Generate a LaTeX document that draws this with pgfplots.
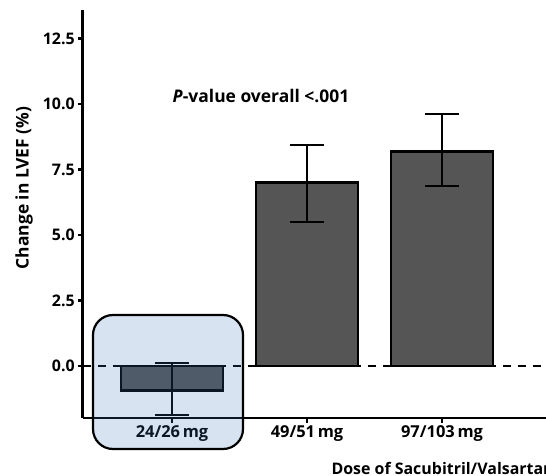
\documentclass[border=0pt]{standalone}
\usepackage{pgfplots}
\usepackage{pgfplotstable}
\pgfplotsset{compat=1.18}
\usepackage{fontspec}
\setmainfont{Open Sans}

\definecolor{bargray}{RGB}{85,85,85}
\definecolor{hlblue}{RGB}{56,116,183}

% mean change in LVEF with asymmetric confidence limits
\pgfplotstableread{
x   y      ep    em
0  -0.92   1.04  0.95
1   7.00   1.43  1.50
2   8.20   1.42  1.33
}\lvef

\begin{document}
\begin{tikzpicture}
\clip (-172bp,-110bp) rectangle (374bp,366bp);
\begin{axis}[
  anchor=origin, at={(0,0)},
  x=135bp, y=26.2bp,
  xmin=-0.66, xmax=3.2, ymin=-1.985, ymax=13.59,
  axis lines=left,
  axis line style={-, line width=2.8bp},
  clip=false,
  xtick={0,1,2},
  xticklabels={24/26\,mg,49/51\,mg,97/103\,mg},
  ytick={0,2.5,5,7.5,10,12.5},
  /pgf/number format/assume math mode=true,
  tick align=outside,
  major tick length=5bp,
  tick style={line width=2.2bp, black},
  ticklabel style={font=\bfseries\fontsize{16}{18}\selectfont},
  yticklabel style={inner sep=3bp, /pgf/number format/.cd, fixed, fixed zerofill, precision=1},
  xticklabel style={font=\bfseries\fontsize{16.5}{18}\selectfont, inner sep=2bp},
]
  % reference line at zero
  \draw[line width=2.2bp, dash pattern=on 8bp off 7bp] (axis cs:-0.66,0) -- (axis cs:3.2,0);

  \addplot[ybar, bar width=102bp, fill=bargray, draw=black, line width=2.8bp,
    error bars/.cd, y dir=both, y explicit,
    error bar style={line width=2.2bp, black},
    error mark options={rotate=90, line width=2.2bp, mark size=17bp, black}]
    table[x=x, y=y, y error plus=ep, y error minus=em] {\lvef};
\end{axis}

% highlighted lowest dose
\draw[line width=2.2bp, rounded corners=20bp, fill=hlblue, fill opacity=0.2]
  (-79bp,-83bp) rectangle (71bp,51bp);

\node[rotate=90, font=\bfseries\fontsize{17.5}{19}\selectfont] at (-148bp,178bp) {Change in LVEF (\%)};
\node[font=\bfseries\fontsize{17.5}{19}\selectfont] at (89bp,270bp) {\textit{P}-value overall <.001};
\node[anchor=base west, font=\bfseries\fontsize{16}{18}\selectfont] at (156bp,-108bp) {Dose of Sacubitril/Valsartan};
\end{tikzpicture}
\end{document}
